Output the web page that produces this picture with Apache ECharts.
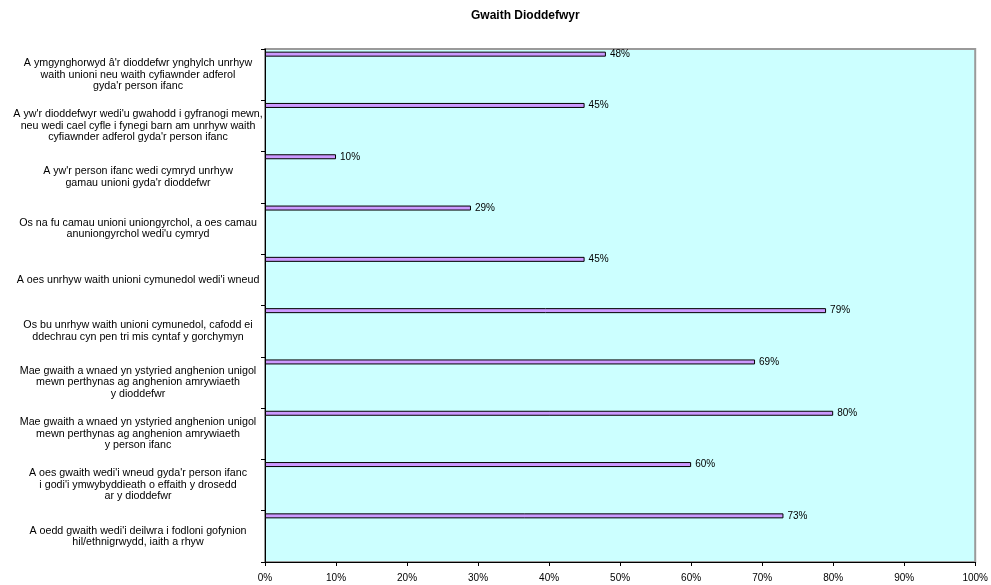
<!DOCTYPE html>
<html>
<head>
<meta charset="utf-8">
<script src="https://cdn.jsdelivr.net/npm/echarts@6/dist/echarts.min.js"></script>
<style>html,body{margin:0;padding:0;background:#fff}#c{width:991px;height:585px}</style>
</head>
<body>
<div id="c"></div>
<script>
var title = 'Gwaith Dioddefwyr';
var categories = [
  'A ymgynghorwyd â\'r dioddefwr ynghylch unrhyw\nwaith unioni neu waith cyfiawnder adferol\ngyda\'r person ifanc',
  'A yw\'r dioddefwyr wedi\'u gwahodd i gyfranogi mewn,\nneu wedi cael cyfle i fynegi barn am unrhyw waith\ncyfiawnder adferol gyda\'r person ifanc',
  'A yw\'r person ifanc wedi cymryd unrhyw\ngamau unioni gyda\'r dioddefwr',
  'Os na fu camau unioni uniongyrchol, a oes camau\nanuniongyrchol wedi\'u cymryd',
  'A oes unrhyw waith unioni cymunedol wedi\'i wneud',
  'Os bu unrhyw waith unioni cymunedol, cafodd ei\nddechrau cyn pen tri mis cyntaf y gorchymyn',
  'Mae gwaith a wnaed yn ystyried anghenion unigol\nmewn perthynas ag anghenion amrywiaeth\ny dioddefwr',
  'Mae gwaith a wnaed yn ystyried anghenion unigol\nmewn perthynas ag anghenion amrywiaeth\ny person ifanc',
  'A oes gwaith wedi\'i wneud gyda\'r person ifanc\ni godi\'i ymwybyddieath o effaith y drosedd\nar y dioddefwr',
  'A oedd gwaith wedi\'i deilwra i fodloni gofynion\nhil/ethnigrwydd, iaith a rhyw'
];
var values = [48, 45, 10, 29, 45, 79, 69, 80, 60, 73];
var emptySeries = categories.map(function(){ return null; });

var chart = echarts.init(document.getElementById('c'), null, {renderer: 'canvas'});
chart.setOption({
  animation: false,
  backgroundColor: '#ffffff',
  title: {
    text: title,
    left: 466, top: 5,
    textStyle: {fontFamily: 'Liberation Sans, Arial, sans-serif', fontSize: 12, fontWeight: 'bold', color: '#000'}
  },
  grid: {
    left: 265, right: 13, top: 49, bottom: 23,
    show: true, backgroundColor: '#ccffff', borderColor: '#9a9a9a', borderWidth: 2
  },
  xAxis: {
    type: 'value', min: 0, max: 100, interval: 10,
    axisLine: {show: true, lineStyle: {color: '#000', width: 1}},
    axisTick: {show: true, length: 4, lineStyle: {color: '#000'}},
    splitLine: {show: false},
    axisLabel: {formatter: '{value}%', fontFamily: 'Liberation Sans, Arial, sans-serif', fontSize: 10, color: '#000', margin: 11}
  },
  yAxis: {
    type: 'category', data: categories, inverse: true,
    axisLine: {show: true, lineStyle: {color: '#000', width: 1}},
    axisTick: {show: true, length: 4, lineStyle: {color: '#000'}},
    axisLabel: {interval: 0, align: 'center', margin: 127, lineHeight: 11.5,
      fontFamily: 'Liberation Sans, Arial, sans-serif', fontSize: 10.7, color: '#000'}
  },
  series: [
    {
      type: 'bar', data: values, barWidth: 5, barGap: '720%',
      itemStyle: {color: '#cc99ff', borderColor: '#000', borderWidth: 1},
      label: {show: true, position: 'right', distance: 4, formatter: '{c}%',
        fontFamily: 'Liberation Sans, Arial, sans-serif', fontSize: 10, color: '#000'}
    },
    {
      type: 'bar', data: emptySeries, barWidth: 5, silent: true,
      itemStyle: {color: 'transparent'}
    }
  ]
});
</script>
</body>
</html>
